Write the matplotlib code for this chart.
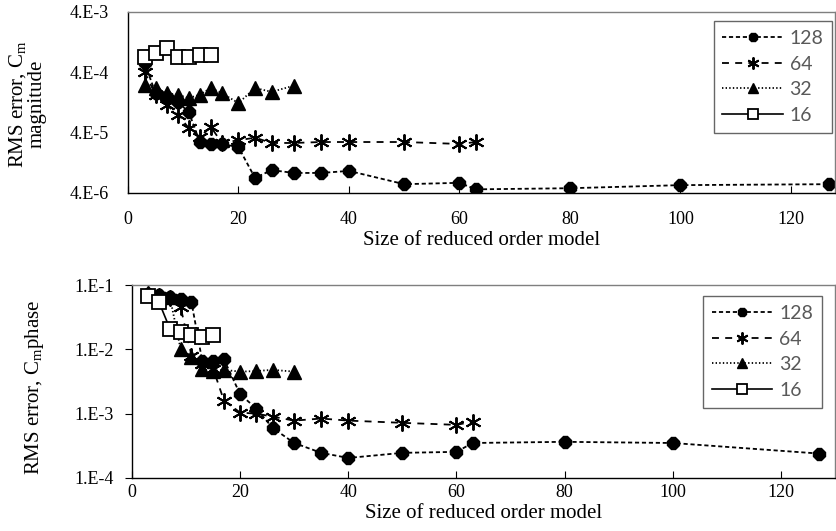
import numpy as np
import matplotlib.pyplot as plt
from matplotlib.ticker import FixedLocator, NullLocator

plt.rcParams['font.family'] = 'Liberation Serif'
plt.rcParams['mathtext.fontset'] = 'custom'
plt.rcParams['mathtext.rm'] = 'Liberation Serif'
plt.rcParams['mathtext.it'] = 'Liberation Serif:italic'
plt.rcParams['lines.scale_dashes'] = False

# --- magnitude error vs ROM size ---
mag_x128 = [3, 5, 7, 9, 11, 13, 15, 17, 20, 23, 26, 30, 35, 40, 50, 60, 63, 80, 100, 127]
mag_y128 = [5.7e-4, 1.8e-4, 1.56e-4, 1.29e-4, 8.8e-5, 2.8e-5, 2.6e-5, 2.6e-5, 2.3e-5, 7.1e-6,
            9.6e-6, 8.6e-6, 8.6e-6, 9.3e-6, 5.6e-6, 5.9e-6, 4.6e-6, 4.8e-6, 5.4e-6, 5.6e-6]
mag_x64 = [3, 5, 7, 9, 11, 13, 15, 17, 20, 23, 26, 30, 35, 40, 50, 60, 63]
mag_y64 = [4.06e-4, 1.69e-4, 1.15e-4, 7.9e-5, 4.8e-5, 3.4e-5, 5.0e-5, 2.7e-5, 3.0e-5, 3.3e-5,
           2.7e-5, 2.7e-5, 2.8e-5, 2.8e-5, 2.8e-5, 2.6e-5, 2.8e-5]
mag_x32 = [3, 5, 7, 9, 11, 13, 15, 17, 20, 23, 26, 30]
mag_y32 = [2.5e-4, 2.2e-4, 1.8e-4, 1.7e-4, 1.5e-4, 1.7e-4, 2.2e-4, 1.8e-4, 1.24e-4, 2.2e-4,
           1.9e-4, 2.4e-4]
mag_x16 = [3, 5, 7, 9, 11, 13, 15]
mag_y16 = [7.2e-4, 8.4e-4, 1.02e-3, 7.2e-4, 7.2e-4, 7.8e-4, 7.8e-4]

# --- phase error vs ROM size ---
ph_x128 = [3, 5, 7, 9, 11, 13, 15, 17, 20, 23, 26, 30, 35, 40, 50, 60, 63, 80, 100, 127]
ph_y128 = [7.2e-2, 7.0e-2, 6.5e-2, 6.0e-2, 5.4e-2, 6.5e-3, 6.5e-3, 7.0e-3, 2.0e-3, 1.2e-3,
           6.0e-4, 3.5e-4, 2.46e-4, 2.05e-4, 2.46e-4, 2.55e-4, 3.5e-4, 3.65e-4, 3.5e-4, 2.4e-4]
ph_x64 = [3, 5, 7, 9, 11, 13, 15, 17, 20, 23, 26, 30, 35, 40, 50, 60, 63]
ph_y64 = [7.2e-2, 6.8e-2, 6.3e-2, 4.5e-2, 8.0e-3, 6.0e-3, 5.0e-3, 1.6e-3, 1.04e-3, 1.0e-3,
          9.0e-4, 7.8e-4, 8.4e-4, 7.8e-4, 7.2e-4, 6.7e-4, 7.5e-4]
ph_x32 = [3, 5, 7, 9, 11, 13, 15, 17, 20, 23, 26, 30]
ph_y32 = [7.3e-2, 7.0e-2, 6.5e-2, 1.0e-2, 7.5e-3, 4.9e-3, 4.6e-3, 4.8e-3, 4.5e-3, 4.6e-3,
          4.8e-3, 4.5e-3]
ph_x16 = [3, 5, 7, 9, 11, 13, 15]
ph_y16 = [6.7e-2, 5.4e-2, 2.1e-2, 1.85e-2, 1.65e-2, 1.54e-2, 1.7e-2]

labels = ['128', '64', '32', '16']
asterisk = (6, 2, 0)


def draw(ax, data):
    (x1, y1), (x2, y2), (x3, y3), (x4, y4) = data
    ax.plot(x1, y1, color='k', lw=1.3, dashes=(3, 2), marker='8', ms=9,
            mfc='k', mec='k', label=labels[0])
    ax.plot(x2, y2, color='k', lw=1.3, dashes=(5, 4.5), marker=asterisk, ms=11.5,
            mew=1.4, mec='k', label=labels[1])
    ax.plot(x3, y3, color='k', lw=1.3, dashes=(1, 1.6), marker='^', ms=10,
            mfc='k', mec='k', label=labels[2])
    ax.plot(x4, y4, color='k', lw=1.2, marker='s', ms=10, mfc='white',
            mec='k', mew=1.3, label=labels[3])
    ax.set_yscale('log')
    ax.yaxis.set_minor_locator(NullLocator())
    ax.set_xticks([0, 20, 40, 60, 80, 100, 120])
    for side in ['left', 'bottom']:
        ax.spines[side].set_color('k')
        ax.spines[side].set_linewidth(1.0)
    for side in ['top', 'right']:
        ax.spines[side].set_color('#7f7f7f')
        ax.spines[side].set_linewidth(1.0)
    leg = ax.legend(loc='upper right', frameon=True, fancybox=False,
                    prop={'family': 'Lato', 'size': 14}, labelcolor='#595959',
                    handlelength=3.1, handletextpad=0.35, labelspacing=0.45,
                    borderpad=0.45, borderaxespad=0, markerscale=0.75)
    leg.get_frame().set_edgecolor('#404040')
    leg.get_frame().set_linewidth(1.0)
    return leg


fig = plt.figure(figsize=(8.36, 5.31), dpi=100)

# upper panel: magnitude
ax1 = fig.add_axes([128 / 836, 1 - 193 / 531, 707 / 836, 181 / 531])
leg1 = draw(ax1, [(mag_x128, mag_y128), (mag_x64, mag_y64), (mag_x32, mag_y32), (mag_x16, mag_y16)])
leg1.set_bbox_to_anchor((0.996, 0.950))
ax1.set_xlim(0, 128)
ax1.set_ylim(4e-6, 4e-3)
ax1.yaxis.set_major_locator(FixedLocator([4e-6, 4e-5, 4e-4, 4e-3]))
ax1.set_yticklabels(['4.E-6', '4.E-5', '4.E-4', '4.E-3'])
ax1.tick_params(axis='y', length=0, pad=14, labelsize=13)
ax1.tick_params(axis='x', direction='in', length=5, pad=13, labelsize=13)
ax1.set_xlabel('Size of reduced order model', fontsize=15)
ax1.xaxis.set_label_coords(0.5, -0.21)
fig.text(27 / 836, 1 - 104 / 531, 'RMS error, C$_\\mathrm{m}$\nmagnitude', fontsize=15,
         rotation=90, ha='center', va='center', linespacing=0.95, multialignment='center')

# lower panel: phase
ax2 = fig.add_axes([132 / 836, 1 - 478 / 531, 703 / 836, 193 / 531])
leg2 = draw(ax2, [(ph_x128, ph_y128), (ph_x64, ph_y64), (ph_x32, ph_y32), (ph_x16, ph_y16)])
leg2.set_bbox_to_anchor((0.981, 0.943))
ax2.set_xlim(0, 130)
ax2.set_ylim(1e-4, 1e-1)
ax2.yaxis.set_major_locator(FixedLocator([1e-4, 1e-3, 1e-2, 1e-1]))
ax2.set_yticklabels(['1.E-4', '1.E-3', '1.E-2', '1.E-1'])
ax2.tick_params(axis='y', direction='out', length=5, pad=8, labelsize=13)
ax2.tick_params(axis='x', direction='in', length=5, pad=4, labelsize=13)
ax2.set_xlabel('Size of reduced order model', fontsize=15)
ax2.xaxis.set_label_coords(0.5, -0.135)
fig.text(35 / 836, 1 - 387 / 531, 'RMS error, C$_\\mathrm{m}$phase', fontsize=15,
         rotation=90, ha='center', va='center')

fig.savefig('out.png', dpi=100)
